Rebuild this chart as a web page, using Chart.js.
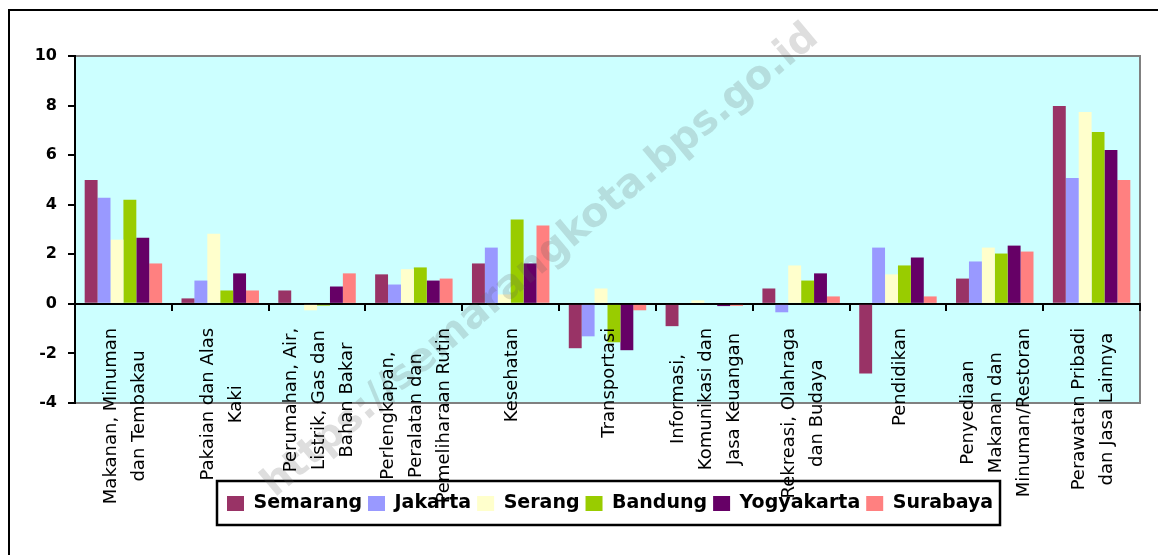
<!DOCTYPE html>
<html>
<head>
<meta charset="utf-8">
<script src="https://cdn.jsdelivr.net/npm/chart.js@4/dist/chart.umd.min.js"></script>
<style>
  html, body { margin: 0; padding: 0; background: #fff; }
  #wrap { width: 1158px; height: 555px; position: relative; }
</style>
</head>
<body>
<div id="wrap"><canvas id="chart"></canvas></div>
<script>
// kategori pengeluaran (label multi baris)
const categories = [
	["Makanan, Minuman", "dan Tembakau"],
	["Pakaian dan Alas", "Kaki"],
	["Perumahan, Air,", "Listrik, Gas dan", "Bahan Bakar"],
	["Perlengkapan,", "Peralatan dan", "Pemeliharaan Rutin"],
	["Kesehatan"],
	["Transportasi"],
	["Informasi,", "Komunikasi dan", "Jasa Keuangan"],
	["Rekreasi, Olahraga", "dan Budaya"],
	["Pendidikan"],
	["Penyediaan", "Makanan dan", "Minuman/Restoran"],
	["Perawatan Pribadi", "dan Jasa Lainnya"]
];

const semarang   = [5.00, 0.22, 0.54, 1.19, 1.63, -1.79, -0.90, 0.62, -2.81, 1.02, 7.98];
const jakarta    = [4.28, 0.94, 0.00, 0.78, 2.27, -1.31, 0.00, -0.34, 2.27, 1.71, 5.08];
const serang     = [2.59, 2.83, -0.26, 1.40, 0.38, 0.62, 0.14, 1.55, 1.19, 2.27, 7.74];
const bandung    = [4.20, 0.54, -0.07, 1.47, 3.40, -1.55, 0.00, 0.94, 1.55, 2.03, 6.93];
const yogyakarta = [2.67, 1.23, 0.70, 0.94, 1.63, -1.87, -0.09, 1.23, 1.87, 2.35, 6.21];
const surabaya   = [1.63, 0.54, 1.23, 1.02, 3.16, -0.26, -0.08, 0.30, 0.30, 2.11, 5.00];

const cityNames = ["Semarang", "Jakarta", "Serang", "Bandung", "Yogyakarta", "Surabaya"];
const cityColors = ["#993366", "#9999FF", "#FFFFCC", "#99CC00", "#660066", "#FF8080"];
const yTicks = [-4, -2, 0, 2, 4, 6, 8, 10];

const LEGEND_BOX = { left: 217, top: 481, right: 1000, bottom: 525 };

// latar belakang, bingkai, kotak legenda
const backgroundPlugin = {
	id: 'background',
	beforeDraw(chart) {
		const { ctx, chartArea: a } = chart;
		ctx.save();
		ctx.fillStyle = '#fff';
		ctx.fillRect(0, 0, chart.width, chart.height);
		ctx.strokeStyle = '#000';
		ctx.lineWidth = 2;
		ctx.beginPath();
		ctx.moveTo(9, chart.height);
		ctx.lineTo(9, 10);
		ctx.lineTo(chart.width, 10);
		ctx.stroke();
		ctx.fillStyle = '#CCFFFF';
		ctx.fillRect(a.left, a.top, a.right - a.left, a.bottom - a.top);
		ctx.strokeStyle = '#808080';
		ctx.strokeRect(a.left, a.top, a.right - a.left, a.bottom - a.top);
		ctx.fillStyle = '#fff';
		ctx.fillRect(LEGEND_BOX.left, LEGEND_BOX.top, LEGEND_BOX.right - LEGEND_BOX.left, LEGEND_BOX.bottom - LEGEND_BOX.top);
		ctx.strokeStyle = '#000';
		ctx.lineWidth = 2.5;
		ctx.strokeRect(LEGEND_BOX.left, LEGEND_BOX.top, LEGEND_BOX.right - LEGEND_BOX.left, LEGEND_BOX.bottom - LEGEND_BOX.top);
		ctx.restore();
	}
};

// pindahkan legenda ke dalam kotak
const legendMovePlugin = {
	id: 'legendMove',
	afterLayout(chart) {
		const lg = chart.legend;
		if (!lg) return;
		const pad = lg.options.labels.padding;
		const h = lg.height;
		lg.left = 227 - pad;
		lg.right = chart.width;
		lg.width = lg.right - lg.left;
		lg.top = 494 - pad;
		lg.bottom = lg.top + h;
	}
};

// label kategori vertikal + watermark
const labelPlugin = {
	id: 'catLabels',
	afterDraw(chart) {
		const { ctx } = chart;
		const x = chart.scales.x;
		const zeroY = chart.scales.y.getPixelForValue(0);

		ctx.save();
		ctx.font = 'bold 40px "DejaVu Sans"';
		ctx.fillStyle = 'rgba(90,90,90,0.2)';
		ctx.textAlign = 'left';
		ctx.textBaseline = 'middle';
		ctx.translate(268, 490);
		ctx.rotate(-40 * Math.PI / 180);
		ctx.fillText('https://semarangkota.bps.go.id', 0, 0);
		ctx.restore();

		ctx.save();
		ctx.font = '18px "DejaVu Sans"';
		ctx.fillStyle = '#000';
		ctx.textAlign = 'center';
		ctx.textBaseline = 'middle';
		const lh = 28;
		categories.forEach((lines, i) => {
			const cx = x.getPixelForValue(i) + 2;
			const maxW = Math.max(...lines.map(l => ctx.measureText(l).width));
			const cy = zeroY + 24 + maxW / 2;
			ctx.save();
			ctx.translate(cx, cy);
			ctx.rotate(-Math.PI / 2);
			lines.forEach((l, j) => {
				ctx.fillText(l, 0, (j - (lines.length - 1) / 2) * lh);
			});
			ctx.restore();
		});
		ctx.restore();
	}
};

const datasets = [semarang, jakarta, serang, bandung, yogyakarta, surabaya].map((vals, i) => ({
	label: cityNames[i],
	data: vals,
	backgroundColor: cityColors[i],
	borderWidth: 0,
	categoryPercentage: 0.8,
	barPercentage: 1.0
}));

new Chart(document.getElementById('chart'), {
	type: 'bar',
	data: { labels: categories.map(c => c.join(' ')), datasets },
	options: {
		responsive: true,
		maintainAspectRatio: false,
		animation: false,
		layout: { padding: { top: 56, right: 18, left: 0, bottom: 117 } },
		plugins: {
			tooltip: { enabled: false },
			legend: {
				position: 'bottom',
				align: 'start',
				labels: {
					boxWidth: 17,
					boxHeight: 15,
					padding: 6,
					color: '#000',
					font: { family: 'DejaVu Sans', size: 19, weight: 'bold' }
				}
			}
		},
		scales: {
			x: {
				position: { y: 0 },
				offset: true,
				ticks: { display: false },
				grid: {
					offset: true,
					drawOnChartArea: false,
					drawTicks: true,
					tickLength: 6,
					color: '#000',
					lineWidth: 2
				},
				border: { display: true, color: '#000', width: 2 }
			},
			y: {
				min: -4,
				max: 10,
				afterFit: s => { s.width = 75; },
				afterBuildTicks: s => { s.ticks = yTicks.map(v => ({ value: v })); },
				ticks: {
					padding: 11,
					color: '#000',
					font: { family: 'DejaVu Sans', size: 16, weight: 'bold' }
				},
				grid: {
					drawOnChartArea: false,
					drawTicks: true,
					tickLength: 7,
					color: '#000',
					lineWidth: 2
				},
				border: { display: true, color: '#000', width: 2 }
			}
		}
	},
	plugins: [backgroundPlugin, legendMovePlugin, labelPlugin]
});
</script>
</body>
</html>
